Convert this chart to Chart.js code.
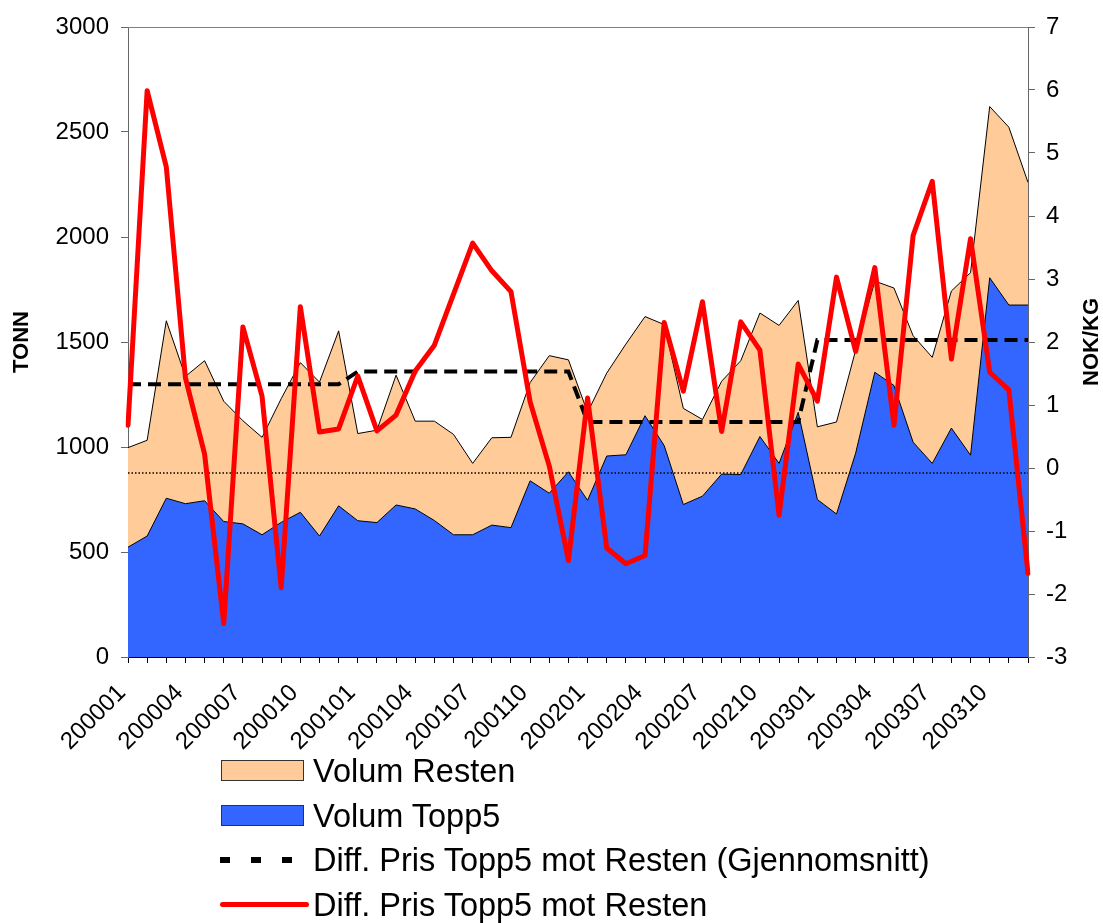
<!DOCTYPE html>
<html>
<head>
<meta charset="utf-8">
<script src="https://cdn.jsdelivr.net/npm/chart.js@4.4.1/dist/chart.umd.min.js"></script>
<style>
html,body{margin:0;padding:0;background:#fff;}
#wrap{position:relative;width:1103px;height:923px;overflow:hidden;}
#c{position:absolute;left:0;top:0;}
#rtitle{position:absolute;left:1091px;top:342px;transform:translate(-50%,-50%) rotate(-90deg);font:bold 22px "Liberation Sans",Arial,sans-serif;white-space:nowrap;color:#000;}
.row{position:absolute;left:0;height:40px;width:1103px;}
.sym{position:absolute;}
.txt{position:absolute;left:313px;top:50%;transform:translateY(-50%);font:32.5px "Liberation Sans",Arial,sans-serif;color:#000;white-space:nowrap;line-height:1;}
</style>
</head>
<body>
<div id="wrap">
<canvas id="c" width="1103" height="923"></canvas>
<div id="rtitle">NOK/KG</div>
<div id="legend"></div>
</div>
<script>
const categories = ["200001","200002","200003","200004","200005","200006","200007","200008","200009","200010","200011","200012",
"200101","200102","200103","200104","200105","200106","200107","200108","200109","200110","200111","200112",
"200201","200202","200203","200204","200205","200206","200207","200208","200209","200210","200211","200212",
"200301","200302","200303","200304","200305","200306","200307","200308","200309","200310","200311","200312"];

const volumTopp5 = [523,576,756,730,744,645,634,582,641,689,576,720,
649,640,724,705,650,582,582,628,616,839,780,882,
746,957,963,1149,1007,726,766,871,869,1050,922,1165,
750,681,971,1356,1293,1023,922,1090,961,1806,1676,1676];

const volumResten = [474,456,845,606,667,573,491,464,589,713,733,833,
415,440,618,418,473,478,340,416,430,468,655,533,
419,395,527,472,576,458,365,442,542,588,657,533,
346,438,490,434,464,507,505,653,869,815,847,584];

const diffPris = [0.68,5.99,4.78,1.43,0.22,-2.47,2.24,1.14,-1.90,2.56,0.57,0.62,
1.46,0.59,0.84,1.54,1.95,2.76,3.57,3.13,2.80,1.05,0.03,-1.47,
1.11,-1.27,-1.52,-1.39,2.31,1.22,2.64,0.58,2.32,1.87,-0.75,1.65,
1.06,3.03,1.85,3.18,0.68,3.69,4.55,1.73,3.64,1.52,1.24,-1.67];

const diffPrisSnitt = [1.33,1.33,1.33,1.33,1.33,1.33,1.33,1.33,1.33,1.33,1.33,1.33,
1.53,1.53,1.53,1.53,1.53,1.53,1.53,1.53,1.53,1.53,1.53,1.53,
0.73,0.73,0.73,0.73,0.73,0.73,0.73,0.73,0.73,0.73,0.73,0.73,
2.03,2.03,2.03,2.03,2.03,2.03,2.03,2.03,2.03,2.03,2.03,2.03];

const refLine = [-0.08,-0.08,-0.08,-0.08,-0.08,-0.08,-0.08,-0.08,-0.08,-0.08,-0.08,-0.08,
-0.08,-0.08,-0.08,-0.08,-0.08,-0.08,-0.08,-0.08,-0.08,-0.08,-0.08,-0.08,
-0.08,-0.08,-0.08,-0.08,-0.08,-0.08,-0.08,-0.08,-0.08,-0.08,-0.08,-0.08,
-0.08,-0.08,-0.08,-0.08,-0.08,-0.08,-0.08,-0.08,-0.08,-0.08,-0.08,-0.08];

const leftAxis = {min: 0, max: 3000, step: 500, title: "TONN"};
const rightAxis = {min: -3, max: 7, step: 1, title: "NOK/KG"};
const labelEvery = 3;

const FONT = '"Liberation Sans", Arial, sans-serif';

const topBorder = {
  id: 'topBorder',
  afterDraw(chart) {
    const {ctx, chartArea: a} = chart;
    ctx.save();
    ctx.strokeStyle = '#808080';
    ctx.lineWidth = 1;
    ctx.beginPath();
    ctx.moveTo(a.left, a.top + 0.5);
    ctx.lineTo(a.right, a.top + 0.5);
    ctx.stroke();
    ctx.restore();
  }
};

const chart = new Chart(document.getElementById('c'), {
  type: 'line',
  data: {
    labels: categories,
    datasets: [
      {label: 'Diff. Pris Topp5 mot Resten', data: diffPris, yAxisID: 'y1', order: 0,
       borderColor: '#FF0000', borderWidth: 5, pointRadius: 0, fill: false, tension: 0,
       borderJoinStyle: 'round', borderCapStyle: 'round'},
      {label: 'Diff. Pris Topp5 mot Resten (Gjennomsnitt)', data: diffPrisSnitt, yAxisID: 'y1', order: 1,
       borderColor: '#000000', borderWidth: 4, borderDash: [13, 7], pointRadius: 0, fill: false, tension: 0},
      {label: '_ref', data: refLine, yAxisID: 'y1', order: 2,
       borderColor: '#000000', borderWidth: 1.5, borderDash: [1.5, 2], pointRadius: 0, fill: false, tension: 0},
      {label: 'Volum Topp5', data: volumTopp5, yAxisID: 'y', order: 3, stack: 'vol',
       borderColor: '#000000', borderWidth: 1, backgroundColor: '#3366FF', pointRadius: 0, fill: 'origin', tension: 0},
      {label: 'Volum Resten', data: volumResten, yAxisID: 'y', order: 4, stack: 'vol',
       borderColor: '#000000', borderWidth: 1, backgroundColor: '#FFCC99', pointRadius: 0, fill: '-1', tension: 0}
    ]
  },
  options: {
    responsive: false,
    animation: false,
    events: [],
    layout: {padding: {top: 27, bottom: 0, left: 0, right: 0}},
    plugins: {legend: {display: false}, tooltip: {enabled: false}},
    scales: {
      x: {
        type: 'category',
        offset: false,
        grid: {display: true, drawOnChartArea: false, drawTicks: true, tickLength: 6, color: '#000'},
        border: {display: true, color: '#000', width: 1},
        ticks: {
          autoSkip: false, maxRotation: 45, minRotation: 45, padding: 16, labelOffset: -6,
          color: '#000', font: {family: FONT, size: 24},
          callback: function(v, i) { return i % labelEvery === 0 ? categories[i] : ''; }
        },
        afterFit: function(s) { s.height = 923 - 657; }
      },
      y: {
        position: 'left', stacked: true,
        min: leftAxis.min, max: leftAxis.max,
        grid: {display: true, drawOnChartArea: false, drawTicks: true, tickLength: 7, color: '#666'},
        border: {display: true, color: '#666', width: 1},
        ticks: {stepSize: leftAxis.step, padding: 12, color: '#000', font: {family: FONT, size: 24},
          callback: function(v) { return String(v); }},
        title: {display: true, text: leftAxis.title, color: '#000', font: {family: FONT, size: 22, weight: 'bold'}, padding: {top: 9, bottom: 0}},
        afterFit: function(s) { s.width = 128; }
      },
      y1: {
        position: 'right',
        min: rightAxis.min, max: rightAxis.max,
        grid: {display: true, drawOnChartArea: false, drawTicks: true, tickLength: 7, color: '#666'},
        border: {display: true, color: '#666', width: 1},
        ticks: {stepSize: rightAxis.step, padding: 11, color: '#000', font: {family: FONT, size: 24},
          callback: function(v) { return String(v); }},
        afterFit: function(s) { s.width = 1103 - 1028; }
      }
    }
  },
  plugins: [topBorder]
});

// HTML legend built from the datasets
const legendOrder = ['Volum Resten', 'Volum Topp5', 'Diff. Pris Topp5 mot Resten (Gjennomsnitt)', 'Diff. Pris Topp5 mot Resten'];
const rowCenters = [771, 816, 860, 905];
const legend = document.getElementById('legend');
legendOrder.forEach(function(name, k) {
  const ds = chart.data.datasets.find(d => d.label === name);
  const row = document.createElement('div');
  row.className = 'row';
  row.style.top = (rowCenters[k] - 20) + 'px';
  if (ds.fill) {
    const b = document.createElement('div');
    b.className = 'sym';
    b.style.cssText = 'left:221px;top:9px;width:83px;height:21px;box-sizing:border-box;border:1px solid #333;background:' + ds.backgroundColor;
    row.appendChild(b);
  } else if (ds.borderDash) {
    [220, 251, 282].forEach(function(x) {
      const d = document.createElement('div');
      d.className = 'sym';
      d.style.cssText = 'left:' + x + 'px;top:17px;width:10px;height:6px;background:' + ds.borderColor;
      row.appendChild(d);
    });
  } else {
    const l = document.createElement('div');
    l.className = 'sym';
    l.style.cssText = 'left:220px;top:17px;width:89px;height:5px;border-radius:3px;background:' + ds.borderColor;
    row.appendChild(l);
  }
  const t = document.createElement('div');
  t.className = 'txt';
  t.textContent = name;
  row.appendChild(t);
  legend.appendChild(row);
});
</script>
</body>
</html>
